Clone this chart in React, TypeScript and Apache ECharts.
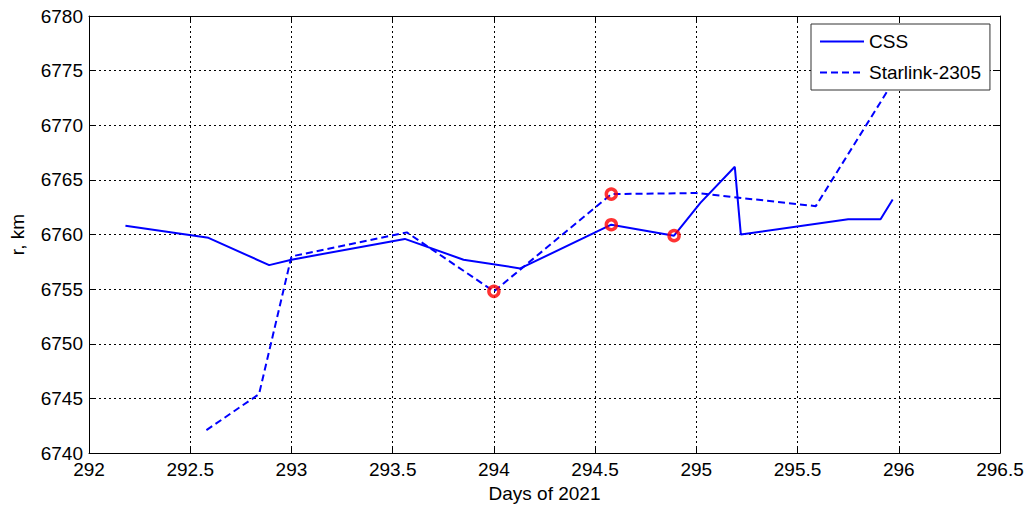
import { useEffect, useRef } from "react";
import * as echarts from "echarts";

// Orbital radius samples (day of year 2021, radius in km)
const cssDays = [292.18, 292.59, 292.89, 293.0, 293.56, 293.85, 294.13, 294.58, 294.89, 295.02, 295.19, 295.22, 295.75, 295.91, 295.97];
const cssRadius = [6760.8, 6759.7, 6757.2, 6757.7, 6759.6, 6757.7, 6756.9, 6760.9, 6759.9, 6762.9, 6766.2, 6760.0, 6761.4, 6761.4, 6763.2];

const starlinkDays = [292.58, 292.84, 293.0, 293.57, 294.0, 294.58, 295.0, 295.59, 296.0];
const starlinkRadius = [6742.1, 6745.4, 6758.0, 6760.2, 6754.8, 6763.7, 6763.8, 6762.6, 6774.8];

// Highlighted approach points
const markedDays = [294.0, 294.58, 294.58, 294.89];
const markedRadius = [6754.8, 6763.7, 6760.9, 6759.9];

const xMin = 292;
const xMax = 296.5;
const xStep = 0.5;
const yMin = 6740;
const yMax = 6780;
const yStep = 5;

const FONT = "'Liberation Sans', Arial, sans-serif";

const zip = (xs: number[], ys: number[]) => xs.map((x, i) => [x, ys[i]]);

export default function App() {
  const ref = useRef<HTMLDivElement>(null);

  useEffect(() => {
    if (!ref.current) return;
    const chart = echarts.init(ref.current, null, { renderer: "svg" });

    const gridLine = { show: true, lineStyle: { color: "#000", width: 1, type: [2, 3] as number[] } };
    const frameLine = { show: true, onZero: false, lineStyle: { color: "#000", width: 1 } };
    const innerTick = { show: true, inside: true, length: 7, lineStyle: { color: "#000", width: 1 } };
    const plain = (v: number) => String(v);

    chart.setOption({
      animation: false,
      backgroundColor: "#fff",
      textStyle: { fontFamily: FONT },
      grid: { left: 83, right: 29, top: 16, bottom: 51, containLabel: false },
      legend: {
        orient: "vertical",
        left: 811,
        top: 24,
        padding: [8, 9, 8, 8],
        itemWidth: 44,
        itemHeight: 14,
        itemGap: 12,
        backgroundColor: "#fff",
        borderColor: "#333",
        borderWidth: 1,
        borderRadius: 0,
        itemStyle: { opacity: 0 },
        textStyle: { fontFamily: FONT, fontSize: 19, color: "#000" },
        data: ["CSS", "Starlink-2305"],
      },
      xAxis: [
        {
          type: "value",
          min: xMin,
          max: xMax,
          interval: xStep,
          name: "Days of 2021",
          nameLocation: "middle",
          nameGap: 30,
          nameTextStyle: { fontFamily: FONT, fontSize: 19, color: "#000" },
          axisLine: frameLine,
          axisTick: innerTick,
          axisLabel: { fontFamily: FONT, fontSize: 19, color: "#000", margin: 7, formatter: plain },
          splitLine: gridLine,
        },
        {
          type: "value",
          position: "top",
          min: xMin,
          max: xMax,
          interval: xStep,
          axisLine: frameLine,
          axisTick: innerTick,
          axisLabel: { show: false },
          splitLine: { show: false },
        },
      ],
      yAxis: [
        {
          type: "value",
          min: yMin,
          max: yMax,
          interval: yStep,
          name: "r, km",
          nameLocation: "middle",
          nameRotate: 90,
          nameGap: 62,
          nameTextStyle: { fontFamily: FONT, fontSize: 19, color: "#000" },
          axisLine: frameLine,
          axisTick: innerTick,
          axisLabel: { fontFamily: FONT, fontSize: 19, color: "#000", margin: 6, formatter: plain },
          splitLine: gridLine,
        },
        {
          type: "value",
          position: "right",
          min: yMin,
          max: yMax,
          interval: yStep,
          axisLine: frameLine,
          axisTick: innerTick,
          axisLabel: { show: false },
          splitLine: { show: false },
        },
      ],
      series: [
        {
          name: "CSS",
          type: "line",
          data: zip(cssDays, cssRadius),
          symbol: "none",
          z: 3,
          lineStyle: { color: "#0000ff", width: 2, type: "solid" },
          itemStyle: { color: "#0000ff" },
        },
        {
          name: "Starlink-2305",
          type: "line",
          data: zip(starlinkDays, starlinkRadius),
          symbol: "none",
          z: 3,
          lineStyle: { color: "#0000ff", width: 2, type: [7, 4] },
          itemStyle: { color: "#0000ff" },
        },
        {
          name: "marks",
          type: "scatter",
          data: zip(markedDays, markedRadius),
          symbol: "circle",
          symbolSize: 10,
          z: 4,
          itemStyle: { color: "rgba(0,0,0,0)", borderColor: "#ff0000", borderWidth: 3.5 },
        },
      ],
    });

    return () => chart.dispose();
  }, []);

  return (
    <div
      ref={ref}
      style={{ position: "absolute", left: 0, top: 0, width: 1029, height: 508, background: "#fff" }}
    />
  );
}
